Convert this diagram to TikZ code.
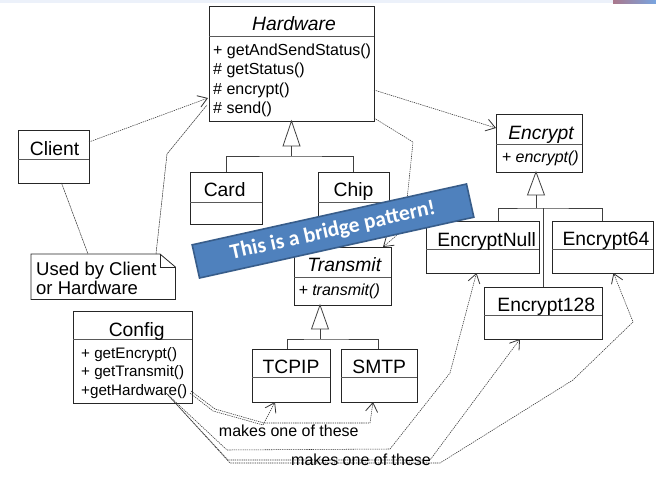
\documentclass[tikz,border=0pt]{standalone}
\usepackage{fontspec}
\setmainfont{Liberation Sans}
\newfontfamily\bannerfont{Carlito}
\usetikzlibrary{arrows.meta,calc}

\definecolor{bannerfill}{RGB}{79,129,189}
\definecolor{bannerrim}{RGB}{56,93,138}
\definecolor{topstrip}{RGB}{236,241,250}

% a UML class box: name, x1, y1, x2, y2, y of the divider
\newcommand\umlbox[6]{%
  \node[box,minimum width={(#4-#2)*1pt},minimum height={(#5-#3)*1pt}] (#1) at (#2,#3) {};
  \draw[divider] (#2,#6) -- (#4,#6);}

\begin{document}
\begin{tikzpicture}[x=1pt,y=-1pt,
  box/.style={draw=black!85,line width=0.8pt,inner sep=0pt,outer sep=0pt,anchor=north west},
  divider/.style={draw=black!65,line width=0.8pt},
  gen/.style={draw=black!75,line width=0.8pt},
  cname/.style={inner sep=0pt,anchor=base,font=\fontsize{19.3}{20}\selectfont},
  aname/.style={inner sep=0pt,anchor=base,font=\itshape\fontsize{19.3}{20}\selectfont},
  op/.style={inner sep=0pt,anchor=base west,font=\fontsize{16}{16}\selectfont},
  aop/.style={inner sep=0pt,anchor=base west,font=\itshape\fontsize{16}{16}\selectfont},
  cop/.style={inner sep=0pt,anchor=base west,font=\fontsize{15.2}{15.2}\selectfont},
  notetext/.style={inner sep=0pt,anchor=base west,font=\fontsize{18.5}{18.5}\selectfont},
  lbl/.style={inner sep=0pt,anchor=base,font=\fontsize{16}{16}\selectfont},
  dep/.style={draw=black!80,line width=0.55pt,dash pattern=on 1.3pt off 0.9pt},
  link/.style={draw=black!80,line width=0.5pt,dash pattern=on 2pt off 0.6pt},
  arr/.style={-{Straight Barb[length=9pt,width=12pt,line width=0.8pt]}},
  banner/.style={fill=bannerfill,draw=bannerrim,line width=1.6pt,rotate=12.5,
    minimum width=281pt,minimum height=34pt,inner sep=0pt,text=white,
    font=\bannerfont\bfseries\fontsize{21.5}{21.5}\selectfont}
]
\useasboundingbox (0,0) rectangle (656,479);
\fill[white] (0,0) rectangle (656,479);
\fill[topstrip] (0,0) rectangle (656,2.5);
\shade[left color={rgb,255:red,170;green,120;blue,140},right color={rgb,255:red,120;green,165;blue,225}] (613,0) rectangle (656,3);

% ---- class boxes ----
\umlbox{hw}{209}{6}{374}{121}{36}
\umlbox{client}{18}{130}{89}{183}{159}
\umlbox{card}{190}{172}{262}{224}{202}
\umlbox{chip}{318}{172}{389}{224}{202}
\umlbox{transmit}{294}{247}{391}{305}{277}
\umlbox{tcpip}{252}{349}{330}{402}{377}
\umlbox{smtp}{341}{349}{417}{402}{377}
\umlbox{encrypt}{496}{114}{582}{172}{144}
\umlbox{enull}{426}{221}{539}{273}{249}
\umlbox{efour}{552}{221}{653}{273}{249}
\umlbox{eone}{484}{287}{602}{339}{315}
\umlbox{config}{73}{311}{192}{403}{339}

% ---- texts ----
\node[aname] at (294,30) {Hardware};
\node[op] at (213,55) {+ getAndSendStatus()};
\node[op] at (213,74.5) {\# getStatus()};
\node[op] at (213,94) {\# encrypt()};
\node[op] at (213,113) {\# send()};
\node[cname] at (54.5,155) {Client};
\node[cname] at (224.7,196.5) {Card};
\node[cname] at (353.5,196.5) {Chip};
\node[aname] at (344.3,271.7) {Transmit};
\node[aop] at (298.3,295) {+ transmit()};
\node[cname] at (291,373.3) {TCPIP};
\node[cname] at (379.3,373) {SMTP};
\node[aname] at (541,139.5) {Encrypt};
\node[aop] at (501.7,162) {+ encrypt()};
\node[cname] at (486.7,246) {EncryptNull};
\node[cname] at (606,245.5) {Encrypt64};
\node[cname] at (546.3,311.5) {Encrypt128};
\node[cname] at (136.7,336) {Config};
\node[cop] at (81,358.5) {+ getEncrypt()};
\node[cop] at (81,376.7) {+ getTransmit()};
\node[cop] at (81,395.7) {+getHardware()};

% ---- note ----
\node[inner sep=0pt,anchor=north west,minimum width=144pt,minimum height=45pt] (note) at (31,254) {};
\draw[box] (note.north west) -- ($(note.north west)+(129,0)$) -- ($(note.north east)+(0,13)$)
  -- (note.south east) -- (note.south west) -- cycle;
\draw[box] ($(note.north west)+(129,0)$) |- ($(note.north east)+(0,13)$);
\node[notetext] (notea) at (36,275) {Used by Client};
\node[notetext] (noteb) at (36,294.3) {or Hardware};

% ---- generalisations ----
\draw[gen,fill=white] (hw.south) -- ++(-8.5,25) -- ++(17,0) -- cycle;
\draw[gen] ($(hw.south)+(0,25)$) -- ++(0,10) coordinate (hwj);
\draw[gen] (card.north) |- (hwj) -| (chip.north);

\coordinate (tr) at ($(transmit.south west)+(26,0)$);
\draw[gen,fill=white] (tr) -- ++(-8.5,24) -- ++(17,0) -- cycle;
\draw[gen] ($(tr)+(0,24)$) -- ++(0,10) coordinate (trj);
\draw[gen] ($(tcpip.north)+(-4,0)$) |- (trj) -| ($(smtp.north)+(-1,0)$);

\coordinate (en) at ($(encrypt.south)+(-3,0)$);
\draw[gen,fill=white] (en) -- ++(-8.5,23) -- ++(17,0) -- cycle;
\draw[gen] ($(en)+(0,23)$) -- ++(0,13) coordinate (enj);
\draw[gen] ($(enull.north)+(15.5,0)$) |- (enj) -| (efour.north);
\draw[gen] (enj -| eone.north) -- (eone.north);

% ---- dependencies ----
\draw[dep,arr] ($(client.north east)+(0,12)$) -- ($(hw.north west)+(-1,92)$);
\draw[link] ($(client.south)+(8,0)$) -- ($(note.north west)+(57,0)$);
\coordinate (nb) at (167,154);
\draw[link] ($(note.north west)+(125,0)$) -- (nb) -- ($(hw.north west)+(-2,99)$);
\draw[dep,arr] ($(hw.north east)+(0,84)$) -- ($(encrypt.north west)+(0,14)$);
\coordinate (ta) at (413,142);
\coordinate (tb) at (407,200);
\coordinate (tc) at (404,229);
\draw[dep,arr] ($(hw.south east)+(0,-3)$) -- (ta) -- (tb) -- (tc) -- ($(transmit.north east)+(-8,0)$);

\coordinate (cfgA) at ($(config.south east)+(-2,-10)$);
\coordinate (cfgB) at ($(config.south east)+(-26,-10)$);
\draw[dep,arr] (cfgA) -- (213,411) -- (263,425) -- ($(tcpip.south)+(-16,0)$);
\draw[dep,arr] ($(cfgA)+(1,-2)$) -- (215,409) -- (264,423) -- (370,423) -- ($(smtp.south)+(-6,0)$);
\draw[dep,arr] (cfgB) -- (227,450) -- (390,449) -- (450,373) -- ($(enull.south)+(-6,0)$);
\draw[dep,arr] ($(cfgB)+(1,1)$) -- (228,460) -- (430,460) -- ($(eone.south)+(-23,0)$);
\draw[dep,arr] ($(cfgB)+(2,2)$) -- (230,463) -- (440,463) -- (573,380) -- (633,322) -- ($(efour.south)+(11,0)$);

\node[lbl] (mk1) at (288.8,436.5) {makes one of these};
\node[lbl] (mk2) at (361,465) {makes one of these};

% ---- banner ----
\node[banner] (bridge) at (333,231) {This is a bridge pattern!};
\end{tikzpicture}
\end{document}
